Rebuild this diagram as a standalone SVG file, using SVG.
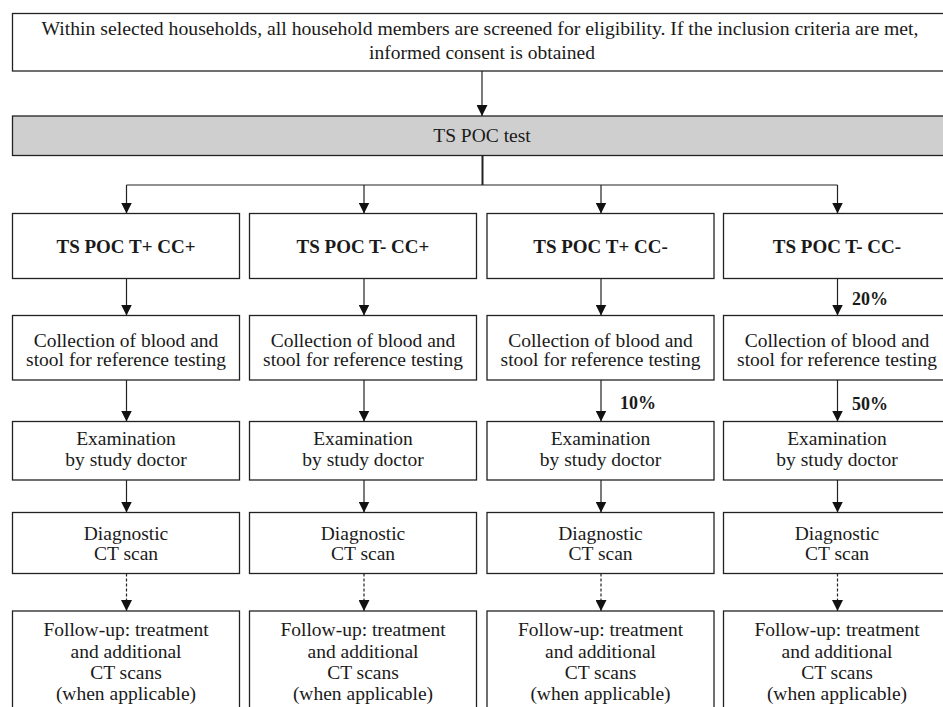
<svg xmlns="http://www.w3.org/2000/svg" width="943" height="707" viewBox="0 0 943 707">
<style>
  .box { fill: #ffffff; stroke: #222222; stroke-width: 1.3; }
  .bar { fill: #d0cfd0; stroke: #222222; stroke-width: 1.3; }
  .t { font-family: 'Liberation Serif', 'DejaVu Serif', serif; font-size: 19.5px; fill: #1a1a1a; text-anchor: middle; }
  .b { font-weight: bold; font-size: 19px; }
  .p { font-family: 'Liberation Serif', 'DejaVu Serif', serif; font-size: 18px; font-weight: bold; fill: #1a1a1a; }
  .ln { fill: none; stroke: #222222; stroke-width: 1.2; }
  .dash { stroke-dasharray: 3 2; }
</style>
<defs>
  <marker id="ah" markerUnits="userSpaceOnUse" markerWidth="11" markerHeight="11" refX="11" refY="5.5" orient="auto" viewBox="0 0 11 11">
    <path d="M0,0 L11,5.5 L0,11 Z" fill="#111111"/>
  </marker>
</defs>
<rect width="943" height="707" fill="#ffffff"/>

<g id="connectors">
  <line class="ln" x1="482" y1="71" x2="482" y2="116" marker-end="url(#ah)"/>
  <line class="ln" x1="482.5" y1="155.5" x2="482.5" y2="185" style="stroke-width:2"/>
  <line class="ln" x1="126.5" y1="185" x2="837.5" y2="185"/>
  <line class="ln" x1="126.5" y1="185" x2="126.5" y2="213.5" marker-end="url(#ah)"/>
  <line class="ln" x1="364" y1="185" x2="364" y2="213.5" marker-end="url(#ah)"/>
  <line class="ln" x1="601" y1="185" x2="601" y2="213.5" marker-end="url(#ah)"/>
  <line class="ln" x1="837.5" y1="185" x2="837.5" y2="213.5" marker-end="url(#ah)"/>

  <line class="ln" x1="126.5" y1="278.5" x2="126.5" y2="315.5" marker-end="url(#ah)"/>
  <line class="ln" x1="364" y1="278.5" x2="364" y2="315.5" marker-end="url(#ah)"/>
  <line class="ln" x1="601" y1="278.5" x2="601" y2="315.5" marker-end="url(#ah)"/>
  <line class="ln" x1="837.5" y1="278.5" x2="837.5" y2="315.5" marker-end="url(#ah)"/>

  <line class="ln" x1="126.5" y1="380" x2="126.5" y2="421.5" marker-end="url(#ah)"/>
  <line class="ln" x1="364" y1="380" x2="364" y2="421.5" marker-end="url(#ah)"/>
  <line class="ln" x1="601" y1="380" x2="601" y2="421.5" marker-end="url(#ah)"/>
  <line class="ln" x1="837.5" y1="380" x2="837.5" y2="421.5" marker-end="url(#ah)"/>

  <line class="ln" x1="126.5" y1="480" x2="126.5" y2="512.5" marker-end="url(#ah)"/>
  <line class="ln" x1="364" y1="480" x2="364" y2="512.5" marker-end="url(#ah)"/>
  <line class="ln" x1="601" y1="480" x2="601" y2="512.5" marker-end="url(#ah)"/>
  <line class="ln" x1="837.5" y1="480" x2="837.5" y2="512.5" marker-end="url(#ah)"/>

  <line class="ln dash" x1="126.5" y1="573.5" x2="126.5" y2="611" marker-end="url(#ah)"/>
  <line class="ln dash" x1="364" y1="573.5" x2="364" y2="611" marker-end="url(#ah)"/>
  <line class="ln dash" x1="601" y1="573.5" x2="601" y2="611" marker-end="url(#ah)"/>
  <line class="ln dash" x1="837.5" y1="573.5" x2="837.5" y2="611" marker-end="url(#ah)"/>

  <text class="p" x="852" y="305">20%</text>
  <text class="p" x="620" y="409">10%</text>
  <text class="p" x="852" y="410">50%</text>
</g>

<g id="screening">
  <rect class="box" x="12.5" y="13.5" width="940" height="57.5"/>
  <text class="t" x="480" y="35" style="font-size:19.7px">Within selected households, all household members are screened for eligibility. If the inclusion criteria are met,</text>
  <text class="t" x="482" y="59">informed consent is obtained</text>
</g>

<g id="poc-test">
  <rect class="bar" x="12.5" y="116" width="940" height="39.5"/>
  <text class="t" x="482" y="142">TS POC test</text>
</g>

<g id="h1"><rect class="box" x="12.5" y="213.5" width="227" height="65"/><text class="t b" x="126" y="252.5">TS POC T+ CC+</text></g>
<g id="h2"><rect class="box" x="249.5" y="213.5" width="227" height="65"/><text class="t b" x="363" y="252.5">TS POC T- CC+</text></g>
<g id="h3"><rect class="box" x="487" y="213.5" width="227" height="65"/><text class="t b" x="600.5" y="252.5">TS POC T+ CC-</text></g>
<g id="h4"><rect class="box" x="723.5" y="213.5" width="240" height="65"/><text class="t b" x="837" y="252.5">TS POC T- CC-</text></g>

<g id="c1"><rect class="box" x="12.5" y="315.5" width="227" height="64.5"/><text class="t" x="126" y="346.5">Collection of blood and</text><text class="t" x="126" y="366">stool for reference testing</text></g>
<g id="c2"><rect class="box" x="249.5" y="315.5" width="227" height="64.5"/><text class="t" x="363" y="346.5">Collection of blood and</text><text class="t" x="363" y="366">stool for reference testing</text></g>
<g id="c3"><rect class="box" x="487" y="315.5" width="227" height="64.5"/><text class="t" x="600.5" y="346.5">Collection of blood and</text><text class="t" x="600.5" y="366">stool for reference testing</text></g>
<g id="c4"><rect class="box" x="723.5" y="315.5" width="240" height="64.5"/><text class="t" x="837" y="346.5">Collection of blood and</text><text class="t" x="837" y="366">stool for reference testing</text></g>

<g id="e1"><rect class="box" x="12.5" y="421.5" width="227" height="58.5"/><text class="t" x="126" y="444.5">Examination</text><text class="t" x="126" y="466">by study doctor</text></g>
<g id="e2"><rect class="box" x="249.5" y="421.5" width="227" height="58.5"/><text class="t" x="363" y="444.5">Examination</text><text class="t" x="363" y="466">by study doctor</text></g>
<g id="e3"><rect class="box" x="487" y="421.5" width="227" height="58.5"/><text class="t" x="600.5" y="444.5">Examination</text><text class="t" x="600.5" y="466">by study doctor</text></g>
<g id="e4"><rect class="box" x="723.5" y="421.5" width="240" height="58.5"/><text class="t" x="837" y="444.5">Examination</text><text class="t" x="837" y="466">by study doctor</text></g>

<g id="d1"><rect class="box" x="12.5" y="512.5" width="227" height="61"/><text class="t" x="126" y="540">Diagnostic</text><text class="t" x="126" y="560">CT scan</text></g>
<g id="d2"><rect class="box" x="249.5" y="512.5" width="227" height="61"/><text class="t" x="363" y="540">Diagnostic</text><text class="t" x="363" y="560">CT scan</text></g>
<g id="d3"><rect class="box" x="487" y="512.5" width="227" height="61"/><text class="t" x="600.5" y="540">Diagnostic</text><text class="t" x="600.5" y="560">CT scan</text></g>
<g id="d4"><rect class="box" x="723.5" y="512.5" width="240" height="61"/><text class="t" x="837" y="540">Diagnostic</text><text class="t" x="837" y="560">CT scan</text></g>

<g id="f1"><rect class="box" x="12.5" y="611" width="227" height="110"/><text class="t" x="126" y="636">Follow-up: treatment</text><text class="t" x="126" y="657.5">and additional</text><text class="t" x="126" y="679">CT scans</text><text class="t" x="126" y="700">(when applicable)</text></g>
<g id="f2"><rect class="box" x="249.5" y="611" width="227" height="110"/><text class="t" x="363" y="636">Follow-up: treatment</text><text class="t" x="363" y="657.5">and additional</text><text class="t" x="363" y="679">CT scans</text><text class="t" x="363" y="700">(when applicable)</text></g>
<g id="f3"><rect class="box" x="487" y="611" width="227" height="110"/><text class="t" x="600.5" y="636">Follow-up: treatment</text><text class="t" x="600.5" y="657.5">and additional</text><text class="t" x="600.5" y="679">CT scans</text><text class="t" x="600.5" y="700">(when applicable)</text></g>
<g id="f4"><rect class="box" x="723.5" y="611" width="240" height="110"/><text class="t" x="837" y="636">Follow-up: treatment</text><text class="t" x="837" y="657.5">and additional</text><text class="t" x="837" y="679">CT scans</text><text class="t" x="837" y="700">(when applicable)</text></g>
</svg>
